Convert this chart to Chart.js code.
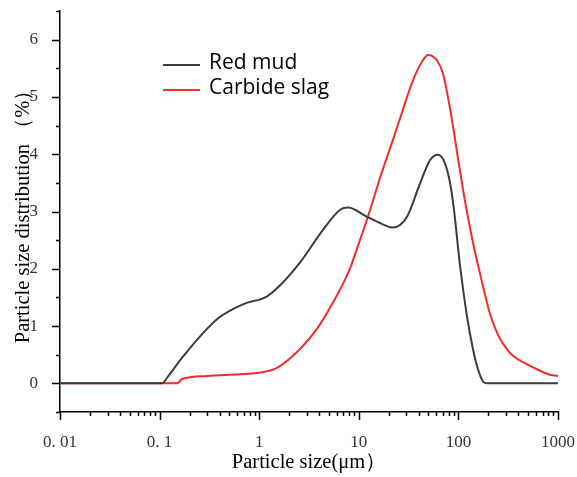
<!DOCTYPE html>
<html>
<head>
<meta charset="utf-8">
<title>Particle size distribution</title>
<script src="https://cdn.jsdelivr.net/npm/chart.js@4.4.0/dist/chart.umd.min.js"></script>
<style>
  html, body { margin: 0; padding: 0; background: #fff; }
  canvas { display: block; }
</style>
</head>
<body>
<canvas id="psd" width="577" height="477"></canvas>
<script>
// particle size (µm) and distribution (%) for each material
const redMudSize = [0.01, 0.02, 0.05, 0.105, 0.125, 0.172, 0.377, 0.687, 1.2, 1.73, 2.57, 4.37, 6.5, 7.8, 12, 16.3, 21.9, 30.5, 41, 52, 62.4, 73, 82.4, 90, 104, 122, 140, 157, 177, 195, 400, 1000];
const redMud = [0, 0, 0, 0, 0.15, 0.47, 1.12, 1.38, 1.52, 1.76, 2.11, 2.68, 3.03, 3.07, 2.91, 2.80, 2.72, 2.91, 3.48, 3.90, 3.99, 3.85, 3.50, 3.05, 2.04, 1.17, 0.60, 0.25, 0.03, 0, 0, 0];

const slagSize = [0.01, 0.05, 0.15, 0.168, 0.30, 0.64, 0.95, 1.51, 2.57, 3.8, 5.5, 8.1, 10.3, 12, 16.3, 22, 26, 35, 44, 49.5, 55, 61, 70, 82, 104, 116, 140, 173, 190, 207, 233, 262, 294, 330, 380, 445, 660, 832, 1000];
const carbideSlag = [0, 0, 0, 0.075, 0.13, 0.16, 0.18, 0.27, 0.6, 0.95, 1.41, 1.99, 2.51, 2.84, 3.58, 4.25, 4.63, 5.29, 5.64, 5.73, 5.71, 5.64, 5.41, 4.82, 3.70, 3.2, 2.46, 1.76, 1.47, 1.22, 0.97, 0.78, 0.64, 0.53, 0.44, 0.37, 0.22, 0.15, 0.13];

const seriesNames = ["Red mud", "Carbide slag"];
const xTickLabels = { 0.01: "0. 01", 0.1: "0. 1", 1: "1", 10: "10", 100: "100", 1000: "1000" };
const yTickLabels = [0, 1, 2, 3, 4, 5, 6];

const colors = {
  mud: "#3c3c3c",
  slag: "#f22b2b",
};
const serif = '"Liberation Serif", "Times New Roman", serif';

const toPoints = (xs, ys) => xs.map((x, i) => ({ x: x, y: ys[i] }));

// axis tick marks: long on decades / integers, short in between
const tickMarks = {
  id: "tickMarks",
  afterDraw(chart) {
    const ctx = chart.ctx;
    const xs = chart.scales.x;
    const ys = chart.scales.y;
    ctx.save();
    ctx.strokeStyle = "#000";
    ctx.lineWidth = 1.5;
    ctx.beginPath();
    for (let e = -2; e <= 3; e++) {
      for (let m = 1; m <= 9; m++) {
        const v = m * Math.pow(10, e);
        if (v > 1000 * 1.0001) break;
        const px = Math.round(xs.getPixelForValue(v)) + 0.5;
        const len = m === 1 ? 8 : 4;
        ctx.moveTo(px, xs.top);
        ctx.lineTo(px, xs.top + len);
      }
    }
    for (let v = -0.5; v <= 6.5; v += 0.5) {
      const py = Math.round(ys.getPixelForValue(v)) + 0.5;
      const len = Number.isInteger(v) ? 8 : 4;
      ctx.moveTo(ys.right, py);
      ctx.lineTo(ys.right - len, py);
    }
    ctx.stroke();
    ctx.restore();
  },
};

// legend drawn inside the plot area
const innerLegend = {
  id: "innerLegend",
  afterDraw(chart) {
    const ctx = chart.ctx;
    ctx.save();
    ctx.font = '21px "Open Sans", "Noto Sans", sans-serif';
    ctx.textBaseline = "middle";
    ctx.fillStyle = "#000";
    chart.data.datasets.forEach((ds, i) => {
      const y = 65 + i * 25;
      ctx.strokeStyle = ds.borderColor;
      ctx.lineWidth = 2;
      ctx.beginPath();
      ctx.moveTo(163, y);
      ctx.lineTo(200, y);
      ctx.stroke();
      ctx.fillText(ds.label, 209, y - 2);
    });
    ctx.restore();
  },
};

new Chart(document.getElementById("psd").getContext("2d"), {
  type: "line",
  data: {
    datasets: [
      {
        label: seriesNames[0],
        data: toPoints(redMudSize, redMud),
        borderColor: colors.mud,
        borderWidth: 2,
        pointRadius: 0,
        cubicInterpolationMode: "monotone",
        fill: false,
      },
      {
        label: seriesNames[1],
        data: toPoints(slagSize, carbideSlag),
        borderColor: colors.slag,
        borderWidth: 2,
        pointRadius: 0,
        cubicInterpolationMode: "monotone",
        fill: false,
      },
    ],
  },
  options: {
    responsive: false,
    animation: false,
    parsing: false,
    layout: {
      padding: { top: 11, right: 19, left: 0, bottom: 0 },
    },
    plugins: {
      legend: { display: false },
      tooltip: { enabled: false },
    },
    scales: {
      x: {
        type: "logarithmic",
        min: 0.01,
        max: 1000,
        afterFit: (scale) => {
          scale.height = 65;
          scale.paddingLeft = 0;
          scale.paddingRight = 0;
        },
        afterBuildTicks: (scale) => {
          scale.ticks = Object.keys(xTickLabels).map((v) => ({ value: Number(v) }));
        },
        grid: { display: false },
        border: { display: true, color: "#000", width: 1.5 },
        ticks: {
          autoSkip: false,
          maxRotation: 0,
          padding: 12,
          color: "#333",
          font: { family: serif, size: 17 },
          callback: (v) => xTickLabels[v] || "",
        },
        title: {
          display: true,
          text: "Particle size(μm）",
          color: "#000",
          font: { family: serif, size: 20.5 },
          padding: { top: 0, bottom: 2 },
        },
      },
      y: {
        min: -0.5,
        max: 6.5,
        afterFit: (scale) => {
          scale.width = 60;
          scale.paddingTop = 0;
          scale.paddingBottom = 0;
        },
        afterBuildTicks: (scale) => {
          scale.ticks = yTickLabels.map((v) => ({ value: v }));
        },
        grid: { display: false },
        border: { display: true, color: "#000", width: 1.5 },
        ticks: {
          padding: 14,
          color: "#333",
          font: { family: serif, size: 17 },
        },
        title: {
          display: true,
          text: "Particle size distribution （%）",
          color: "#000",
          font: { family: serif, size: 20.5 },
          padding: { top: 11, bottom: 0 },
        },
      },
    },
  },
  plugins: [tickMarks, innerLegend],
});
</script>
</body>
</html>
